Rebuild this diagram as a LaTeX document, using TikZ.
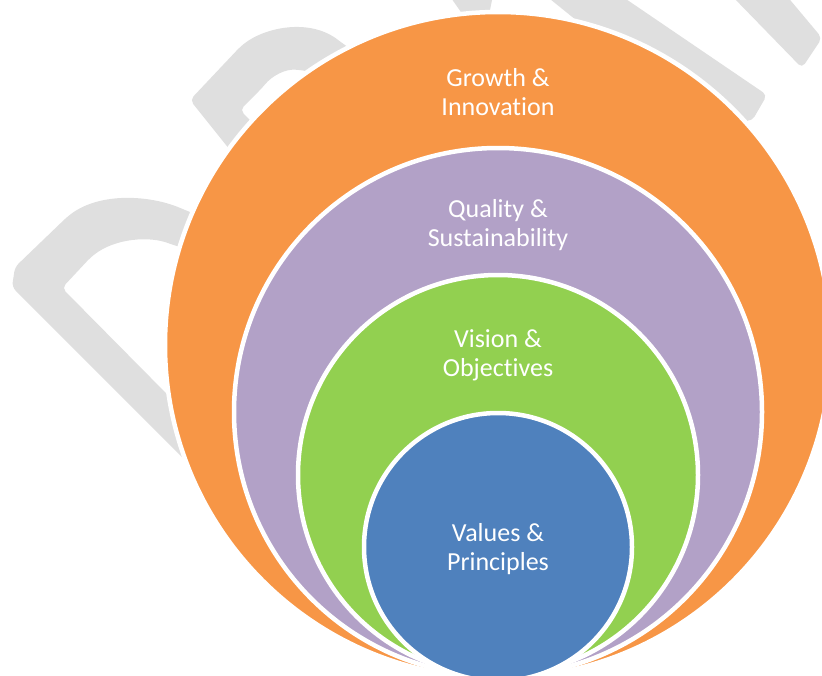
\documentclass[tikz,border=0pt]{standalone}
\usepackage{fontspec}
\setmainfont{Carlito}[Ligatures=NoCommon]
\definecolor{orng}{RGB}{247,150,70}
\definecolor{purp}{RGB}{178,161,199}
\definecolor{grn}{RGB}{146,208,80}
\definecolor{blu}{RGB}{79,129,189}
\definecolor{wmgray}{RGB}{223,223,223}
\begin{document}
\begin{tikzpicture}[x=1pt,y=-1pt,
  ring/.style={circle, draw=white, line width=4.5pt, inner sep=0pt, outer sep=0pt},
  lbl/.style={text=white, font=\fontsize{26}{30}\selectfont, inner sep=0pt, anchor=base},
  wm/.style={fill=wmgray, rounded corners=5pt}]
\useasboundingbox (0,0) rectangle (822,675);
\clip (0,0) rectangle (822,675);
% watermark (DRAFT, partly hidden)
\fill[wm] (240,232) -- (185,210) .. controls (150,195) and (100,192) .. (67,217)
  -- (15,267) -- (12,287) -- (240,515) -- (240,468) -- (62,288) -- (90,258)
  .. controls (115,238) and (150,236) .. (173,245) -- (240,262) -- cycle;
\fill[wm] (250,175) -- (190,100) -- (240,47) .. controls (265,27) and (310,18) .. (342,43)
  -- (370,62) -- (330,75) -- (300,70) .. controls (285,69) and (272,76) .. (262,88)
  -- (240,110) -- (270,140) -- cycle;
\fill[wm] (449,-5) -- (493,-5) -- (487,25) -- (470,25) -- cycle;
\fill[wm] (545,-5) -- (620,-5) -- (767,95) -- (752,121) -- (700,120) -- cycle;
\fill[wm] (731,-5) -- (786,-5) -- (822,38) -- (802,68) -- cycle;
% nested circles
\node[ring, fill=orng, minimum size=666pt] (growth) at (498,345) {};
\node[ring, fill=purp, minimum size=528pt] (quality) at (498,412) {};
\node[ring, fill=grn, minimum size=400pt] (vision) at (498,475) {};
\node[ring, fill=blu, minimum size=268pt] (values) at (498,547) {};
% labels
\node[lbl] (g1) at (498,86) {Growth \&};
\node[lbl] (g2) at (498,115) {Innovation};
\node[lbl] (q1) at (498,217) {Quality \&};
\node[lbl] (q2) at (498,246.5) {Sustainability};
\node[lbl] (v1) at (498,347) {Vision \&};
\node[lbl] (v2) at (498,376) {Objectives};
\node[lbl] (p1) at (498,541) {Values \&};
\node[lbl] (p2) at (498,570) {Principles};
\end{tikzpicture}
\end{document}
